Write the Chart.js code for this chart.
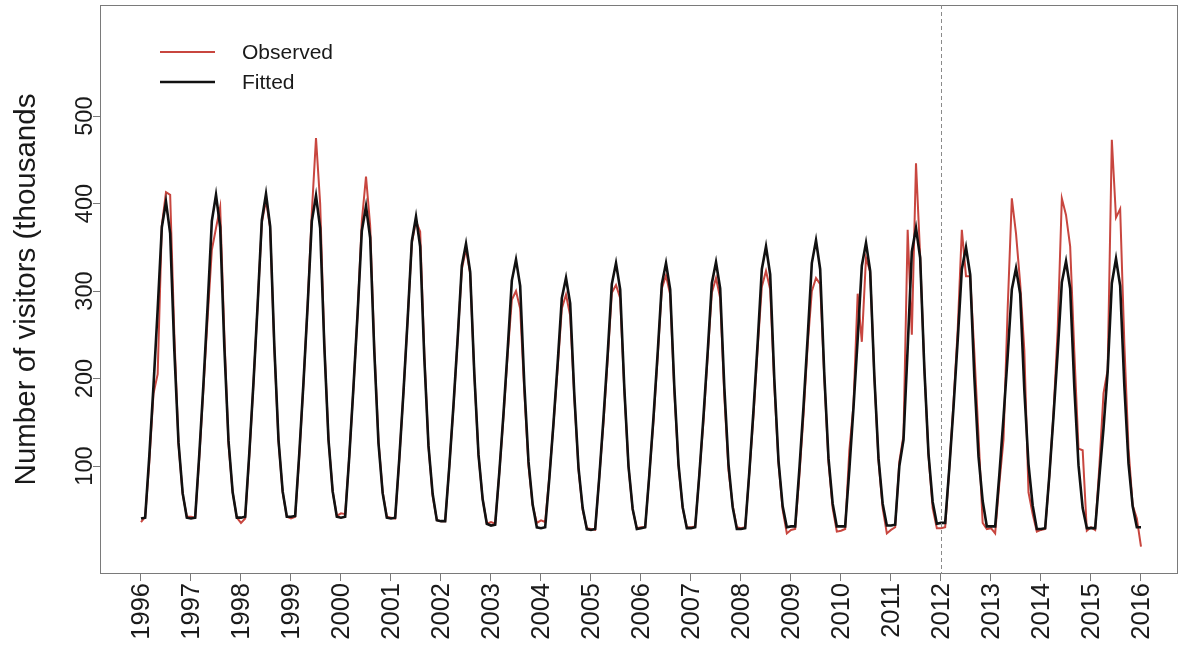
<!DOCTYPE html>
<html><head><meta charset="utf-8">
<script src="https://cdn.jsdelivr.net/npm/chart.js@4.4.1/dist/chart.umd.min.js"></script>
<style>html,body{margin:0;padding:0;background:#fff;overflow:hidden}canvas{display:block}</style>
</head><body>
<canvas id="c" width="1182" height="645" style="width:1182px;height:645px"></canvas>
<script>
const startYear = 1996;
const yearTicks = [1996,1997,1998,1999,2000,2001,2002,2003,2004,2005,2006,2007,2008,2009,2010,2011,2012,2013,2014,2015,2016];
const yTicks = [100,200,300,400,500];
const seriesNames = ['Observed','Fitted'];
const yTitle = 'Number of visitors (thousands';
const splitYear = 2012;

// monthly values, Jan 1996 .. Jan 2016 (thousands)
const observed = [
 36,42,105,183,205,375,413,410,250,125,68,42,
 42,41,110,190,270,347,372,396,250,125,70,41,
 35,40,112,195,285,378,404,372,235,128,70,42,
 40,42,112,195,285,390,475,400,240,130,71,43,
 46,45,112,190,276,380,431,375,235,128,70,42,
 41,40,108,185,268,355,380,368,228,122,66,38,
 37,37,100,168,245,325,348,320,205,112,62,34,
 36,34,92,157,228,290,300,280,185,100,55,35,
 38,36,88,148,212,280,296,272,178,96,50,29,
 28,27,88,150,222,298,307,292,186,99,50,29,
 30,30,90,152,225,303,318,296,185,100,52,30,
 30,31,90,152,226,298,315,292,180,95,55,30,
 29,30,92,158,235,305,323,302,192,103,50,23,
 27,28,88,158,238,300,315,308,200,104,52,25,
 26,28,118,170,297,242,338,322,202,106,52,23,
 27,30,105,135,370,250,446,340,212,112,52,29,
 29,30,98,172,255,370,317,317,230,135,35,28,
 29,23,80,130,280,406,366,309,232,70,45,25,
 27,28,88,160,255,406,387,351,230,120,118,26,
 30,27,99,183,210,473,384,394,240,120,55,40,
 8
];
const fitted = [
 40,41,112,192,279,373,402,366,232,127,69,41,
 40,41,114,195,284,380,410,373,236,129,70,41,
 41,42,115,196,285,381,411,374,237,130,71,42,
 42,43,115,196,284,380,409,372,237,130,71,42,
 41,42,112,191,276,369,397,361,230,126,69,41,
 40,41,109,185,268,357,385,351,223,123,68,38,
 37,37,100,170,246,329,354,322,205,113,62,34,
 32,33,93,160,233,312,336,306,193,105,56,30,
 29,30,86,149,218,292,315,286,181,98,52,28,
 27,28,88,155,228,308,332,302,189,100,51,28,
 29,30,90,156,229,308,332,302,190,102,53,29,
 29,30,90,157,230,309,333,303,190,102,53,28,
 28,29,93,164,241,325,351,319,199,106,54,30,
 31,31,96,168,247,332,358,325,204,109,57,31,
 31,31,96,167,245,329,355,323,203,109,57,32,
 32,33,100,130,235,345,372,338,212,114,59,34,
 35,35,98,167,243,325,350,319,202,111,60,31,
 31,31,90,155,226,302,326,297,187,102,55,28,
 28,29,89,157,230,310,334,303,190,101,52,29,
 29,29,87,143,208,309,337,306,192,103,54,30,
 30
];
const months = observed.map((_, i) => startYear + i / 12);

const RED = '#c8463f', BLACK = '#111111', AXIS = '#7a7a7a', TXT = '#1a1a1a';
const FONT = '"Liberation Sans", Arial, Helvetica, sans-serif';

const decor = {
  id: 'decor',
  afterDraw(chart) {
    const ctx = chart.ctx, a = chart.chartArea;
    const xs = chart.scales.x, ys = chart.scales.y;
    ctx.save();
    // box
    ctx.strokeStyle = AXIS; ctx.lineWidth = 1;
    ctx.strokeRect(a.left + 0.5, a.top + 0.5, a.right - a.left - 1, a.bottom - a.top - 1);
    // dashed split line
    const sx = Math.round(xs.getPixelForValue(splitYear)) + 0.5;
    ctx.setLineDash([4, 3]); ctx.strokeStyle = '#8a8a8a';
    ctx.beginPath(); ctx.moveTo(sx, a.top); ctx.lineTo(sx, a.bottom); ctx.stroke();
    ctx.setLineDash([]);
    // x labels
    ctx.fillStyle = TXT;
    ctx.font = '25.5px ' + FONT;
    ctx.textAlign = 'right'; ctx.textBaseline = 'middle';
    yearTicks.forEach(v => {
      const px = xs.getPixelForValue(v);
      ctx.save(); ctx.translate(px + 1, a.bottom + 9); ctx.rotate(-Math.PI / 2);
      ctx.fillText(String(v), 0, 0); ctx.restore();
    });
    // y labels
    ctx.font = '23.5px ' + FONT;
    ctx.textAlign = 'center'; ctx.textBaseline = 'alphabetic';
    yTicks.forEach(v => {
      const py = ys.getPixelForValue(v);
      ctx.save(); ctx.translate(a.left - 8, py); ctx.rotate(-Math.PI / 2);
      ctx.fillText(String(v), 0, 0); ctx.restore();
    });
    // y title
    ctx.font = '29.5px ' + FONT;
    ctx.save(); ctx.translate(35, (a.top + a.bottom) / 2); ctx.rotate(-Math.PI / 2);
    ctx.fillText(yTitle, 0, 0); ctx.restore();
    // legend
    const ds = chart.data.datasets;
    ctx.font = '21px ' + FONT; ctx.textAlign = 'left'; ctx.textBaseline = 'middle';
    ds.forEach((d, i) => {
      const y = 52 + i * 30;
      ctx.strokeStyle = d.borderColor; ctx.lineWidth = d.borderWidth;
      ctx.beginPath(); ctx.moveTo(160, y); ctx.lineTo(215, y); ctx.stroke();
      ctx.fillStyle = TXT; ctx.fillText(d.label, 242, y + 1);
    });
    ctx.restore();
  }
};

new Chart(document.getElementById('c'), {
  type: 'line',
  data: {
    datasets: [
      { label: seriesNames[0], data: months.map((x, i) => ({ x, y: observed[i] })),
        borderColor: RED, borderWidth: 2, pointRadius: 0, tension: 0, fill: false, order: 1 },
      { label: seriesNames[1], data: months.map((x, i) => ({ x, y: fitted[i] })),
        borderColor: BLACK, borderWidth: 2.6, pointRadius: 0, tension: 0, fill: false, order: 0 }
    ]
  },
  options: {
    responsive: false, animation: false, devicePixelRatio: 1,
    layout: { padding: { top: 5, right: 4, left: 0, bottom: 0 } },
    plugins: { legend: { display: false }, tooltip: { enabled: false } },
    scales: {
      x: {
        type: 'linear', min: 1995.18, max: 2016.74,
        afterBuildTicks: s => { s.ticks = yearTicks.map(v => ({ value: v })); },
        afterFit: s => { s.height = 71; },
        ticks: { display: false },
        grid: { drawOnChartArea: false, drawTicks: true, tickLength: 7, color: AXIS, tickColor: AXIS },
        border: { display: false }
      },
      y: {
        type: 'linear', min: -23.4, max: 627,
        afterBuildTicks: s => { s.ticks = yTicks.map(v => ({ value: v })); },
        afterFit: s => { s.width = 100; },
        ticks: { display: false },
        grid: { drawOnChartArea: false, drawTicks: true, tickLength: 7, color: AXIS, tickColor: AXIS },
        border: { display: false }
      }
    }
  },
  plugins: [decor]
});
</script>
</body></html>
